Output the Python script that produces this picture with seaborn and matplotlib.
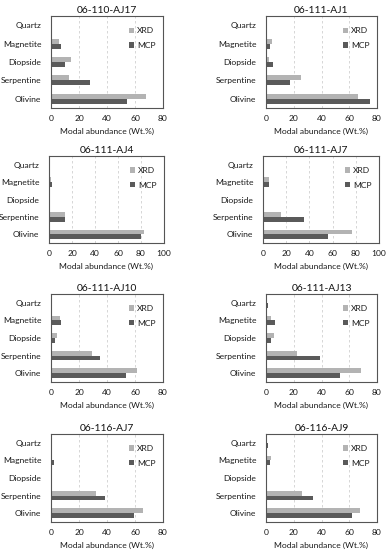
import numpy as np
import pandas as pd
import seaborn as sns
import matplotlib
matplotlib.use("Agg")
import matplotlib.pyplot as plt

sns.set_theme(style="white")
plt.rcParams['font.family'] = ['Lato', 'DejaVu Sans']

minerals = ["Quartz", "Magnetite", "Diopside", "Serpentine", "Olivine"]
methods = ["XRD", "MCP"]
titles = ["06-110-AJ17", "06-111-AJ1", "06-111-AJ4", "06-111-AJ7",
          "06-111-AJ10", "06-111-AJ13", "06-116-AJ7", "06-116-AJ9"]
xmax = [80, 80, 100, 100, 80, 80, 80, 80]

xrd_AJ17 = [0.2, 5.5, 14, 13, 68]
mcp_AJ17 = [0.6, 7, 10, 28, 54]
xrd_AJ1 = [0.3, 4, 2.4, 25.5, 66]
mcp_AJ1 = [0.3, 2.6, 5, 17.4, 75]
xrd_AJ4 = [0.2, 1.5, 0.3, 14, 82.5]
mcp_AJ4 = [0.6, 3, 0.3, 14, 80]
xrd_AJ7 = [0.3, 5.2, 1, 15.4, 76.5]
mcp_AJ7 = [1, 5.2, 1, 35, 56]
xrd_AJ10 = [0.2, 6.4, 4.5, 29, 61.5]
mcp_AJ10 = [0.8, 6.9, 3, 35, 53.7]
xrd_AJ13 = [0.2, 3.8, 6, 22.3, 68.6]
mcp_AJ13 = [1.2, 6.2, 3.3, 38.7, 53.2]
xrd_116AJ7 = [0.2, 1, 0.3, 32, 66]
mcp_116AJ7 = [1, 2.4, 0.3, 38.7, 59]
xrd_AJ9 = [0.2, 3.6, 0, 26, 68]
mcp_AJ9 = [1.2, 3, 0, 34, 62]

series = [(xrd_AJ17, mcp_AJ17), (xrd_AJ1, mcp_AJ1), (xrd_AJ4, mcp_AJ4),
          (xrd_AJ7, mcp_AJ7), (xrd_AJ10, mcp_AJ10), (xrd_AJ13, mcp_AJ13),
          (xrd_116AJ7, mcp_116AJ7), (xrd_AJ9, mcp_AJ9)]

W, H = 389, 550
fig = plt.figure(figsize=(W / 100, H / 100), dpi=100)

# pixel boxes (left, top, right, bottom)
boxes = [
    (51, 16, 163, 108), (266, 16, 377, 108),
    (49, 156, 164, 243), (263, 156, 379, 243),
    (51, 294, 163, 382), (266, 294, 377, 382),
    (51, 434, 163, 522), (266, 434, 377, 522),
]

colors = {"XRD": "#b3b3b3", "MCP": "#5a5a5a"}
fs = 6.1

for i, (title, xm, (xr, mc), (l, t, r, b)) in enumerate(zip(titles, xmax, series, boxes)):
    ax = fig.add_axes([l / W, 1 - b / H, (r - l) / W, (b - t) / H])
    df = pd.DataFrame({
        "Mineral": minerals * 2,
        "Method": ["XRD"] * 5 + ["MCP"] * 5,
        "Value": list(xr) + list(mc),
    })
    sns.barplot(data=df, y="Mineral", x="Value", hue="Method", order=minerals,
                hue_order=methods, palette=colors, orient="h", width=0.54,
                gap=0, ax=ax, errorbar=None, saturation=1, linewidth=0)
    ax.set_xlim(0, xm)
    ax.set_xticks(np.arange(0, xm + 1, 20))
    ax.xaxis.grid(True, linestyle=(0, (3, 3)), color="#d0d0d0", linewidth=0.6)
    ax.set_axisbelow(True)
    for s in ax.spines.values():
        s.set_color("#555555")
        s.set_linewidth(0.8)
    ax.tick_params(axis="x", labelsize=fs, length=0, pad=5, colors="#1a1a1a")
    ax.tick_params(axis="y", labelsize=fs, length=0, pad=7, colors="#1a1a1a")
    ax.set_ylabel("")
    ax.set_xlabel("Modal abundance (Wt.%)", fontsize=fs, color="#1a1a1a", labelpad=4)
    ax.set_title(title, fontsize=7.4, color="#111111", pad=2)
    leg = ax.legend(loc="upper right", frameon=False, fontsize=fs,
                    handlelength=0.6, handleheight=0.6, handletextpad=0.3,
                    labelspacing=0.9, borderaxespad=0.5, bbox_to_anchor=(1.0, 0.96))
    for txt in leg.get_texts():
        txt.set_color("#1a1a1a")

fig.savefig("out.png", dpi=100)
